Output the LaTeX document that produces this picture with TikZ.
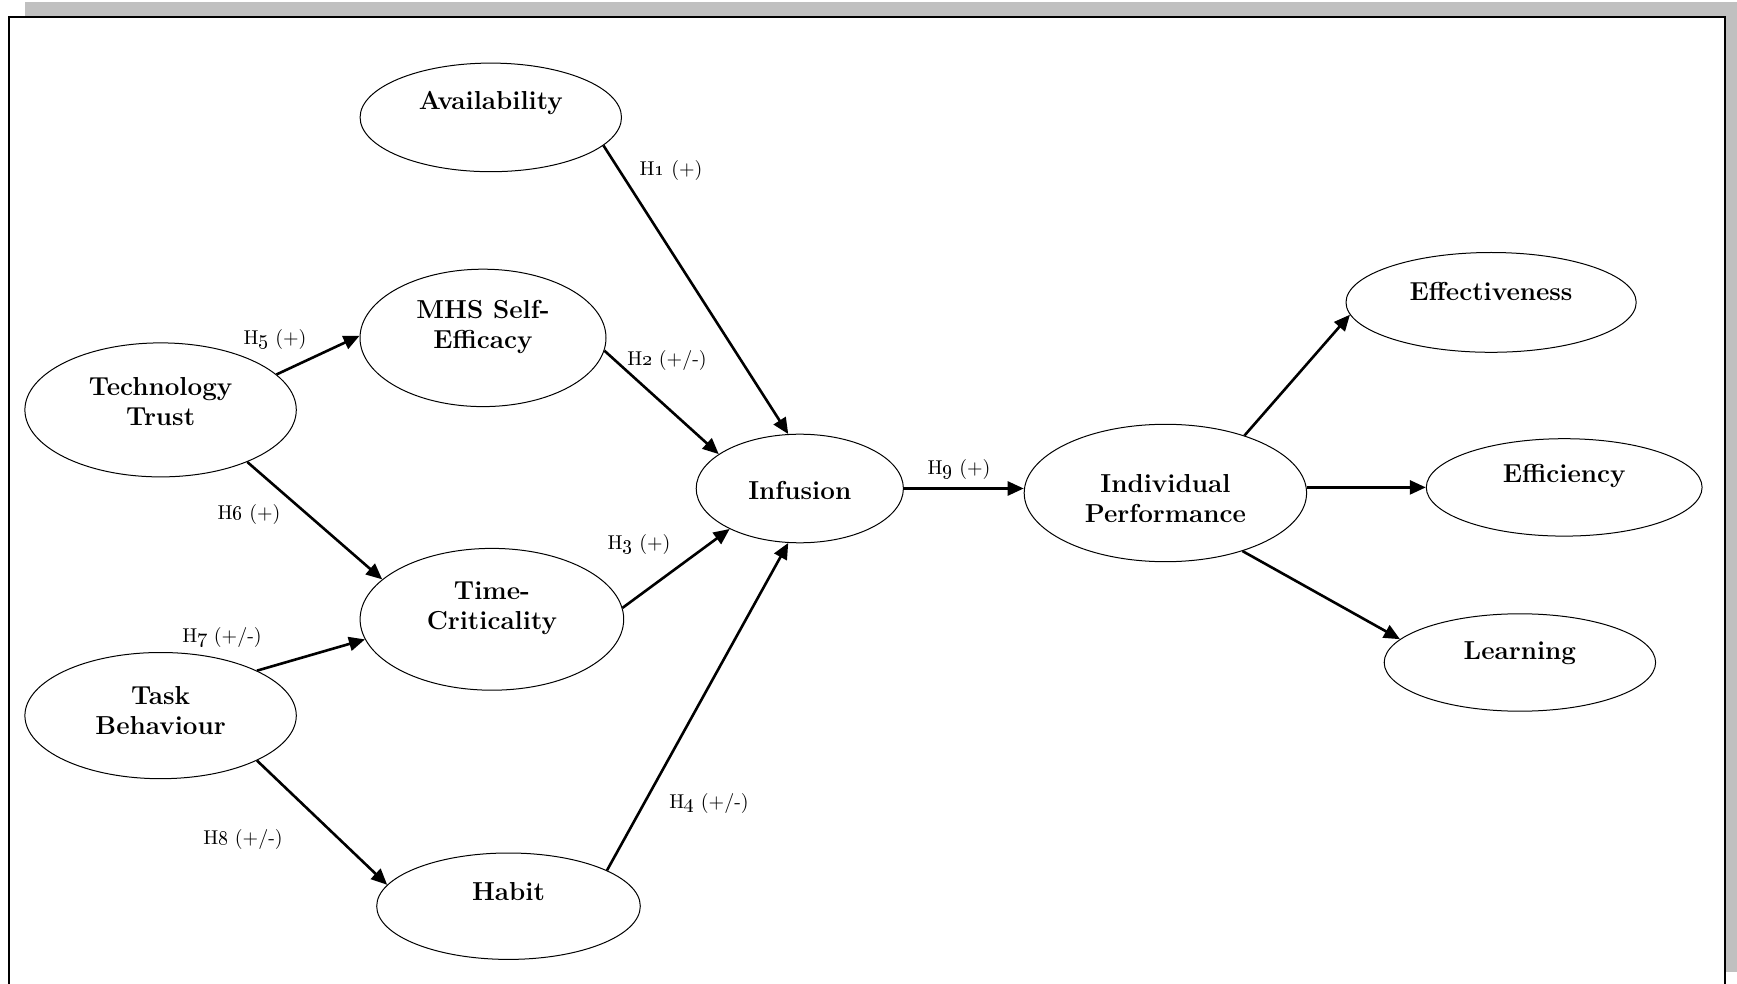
\documentclass[tikz,border=0pt]{standalone}
\usetikzlibrary{arrows.meta,shapes.geometric}
\definecolor{shadowgray}{RGB}{192,192,192}
\begin{document}
\begin{tikzpicture}[x=0.5pt,y=-0.5pt,
  construct/.style={ellipse, draw, line width=0.5pt, inner sep=0pt},
  title/.style={font=\fontsize{13}{15}\selectfont\bfseries, align=center, inner sep=0pt, yshift=-1.2pt},
  hyp/.style={font=\fontsize{10}{12}\selectfont, inner sep=0pt, yshift=-1.1pt},
  link/.style={line width=1.3pt, -{Triangle[length=8pt,width=7pt]}}]
\useasboundingbox (0,0) rectangle (1737,984);
\clip (0,0) rectangle (1737,984);
% frame with its shadow
\fill[shadowgray] (25,2) rectangle (1737,972);
\draw[fill=white, line width=1.3pt] (9,17) rectangle (1725,1010);

% constructs
\node[construct, minimum width=130.7pt, minimum height=54.3pt] (avail) at (490.8,117.4) {};
\node[title] (availT) at (490.8,100.8) {Availability};
\node[construct, minimum width=123pt, minimum height=68.7pt] (mhs) at (483,337.9) {};
\node[title] (mhsT) at (483,325.1) {MHS Self-\\Efficacy};
\node[construct, minimum width=135.7pt, minimum height=67pt] (trust) at (160.6,409.9) {};
\node[title] (trustT) at (160.6,399.4) {Technology\\Trust};
\node[construct, minimum width=131.8pt, minimum height=70.9pt] (time) at (491.9,619.3) {};
\node[title] (timeT) at (491.9,606) {Time-\\Criticality};
\node[construct, minimum width=135.7pt, minimum height=63.1pt] (task) at (160.6,715.6) {};
\node[title] (taskT) at (160.6,707.9) {Task\\Behaviour};
\node[construct, minimum width=131.8pt, minimum height=53.2pt] (habit) at (508.5,906.2) {};
\node[title] (habitT) at (508.5,889.6) {Habit};
\node[construct, minimum width=103.6pt, minimum height=54.3pt] (inf) at (799.8,488.5) {};
\node[title] (infT) at (799.8,488.5) {Infusion};
\node[construct, minimum width=141.2pt, minimum height=68.7pt] (ip) at (1165.4,493) {};
\node[title] (ipT) at (1165.4,496.3) {Individual\\Performance};
\node[construct, minimum width=145.1pt, minimum height=49.9pt] (effect) at (1491.1,302.4) {};
\node[title] (effectT) at (1491.1,289.1) {Effectiveness};
\node[construct, minimum width=137.9pt, minimum height=48.7pt] (effic) at (1564.2,487.4) {};
\node[title] (efficT) at (1564.2,474.1) {Efficiency};
\node[construct, minimum width=135.7pt, minimum height=48.7pt] (learn) at (1519.9,662.5) {};
\node[title] (learnT) at (1519.9,650.3) {Learning};

% hypothesised paths
\draw[link] (avail.-14) -- (inf.102);
\draw[link] (mhs.-6) -- (inf.157);
\draw[link] (time.5) -- (inf.210.5);
\draw[link] (habit.20) -- (inf.258);
\draw[link] (trust.17) -- (mhs.179);
\draw[link] (trust.-31) -- (time.160);
\draw[link] (task.25.5) -- (time.189);
\draw[link] (task.-25.5) -- (habit.170.6);
\draw[link] (inf.east) -- (inf.east -| ip.west);
\draw[link] (ip.36.6) -- (effect.185);
\draw[link] (effic.west -| ip.east) -- (effic.west);
\draw[link] (ip.-37.5) -- (learn.169);

% path labels
\node[hyp] (h1) at (671,168) {H\oldstylenums{1} (+)};
\node[hyp] (h2) at (667,358) {H\oldstylenums{2} (+/-)};
\node[hyp] (h3) at (639,542) {H\oldstylenums{3} (+)};
\node[hyp] (h4) at (709,801) {H\oldstylenums{4} (+/-)};
\node[hyp] (h5) at (275,337) {H\oldstylenums{5} (+)};
\node[hyp] (h6) at (249,512) {H\oldstylenums{6} (+)};
\node[hyp] (h7) at (222,635) {H\oldstylenums{7} (+/-)};
\node[hyp] (h8) at (243,837) {H\oldstylenums{8} (+/-)};
\node[hyp] (h9) at (959,467) {H\oldstylenums{9} (+)};
\end{tikzpicture}
\end{document}
